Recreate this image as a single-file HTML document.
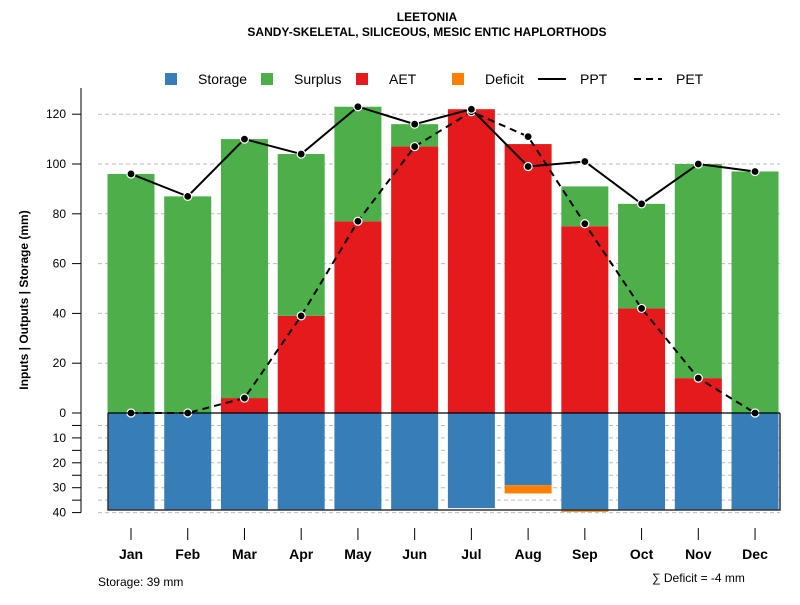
<!DOCTYPE html>
<html><head><meta charset="utf-8"><style>
body{margin:0;background:#fff;font-family:"Liberation Sans",sans-serif}
svg text{font-family:"Liberation Sans",sans-serif}
</style></head><body>
<svg id="c" width="800" height="600" xmlns="http://www.w3.org/2000/svg">
<text x="427" y="21" text-anchor="middle" font-size="12" font-weight="bold">LEETONIA</text>
<text x="427" y="36" text-anchor="middle" font-size="12" font-weight="bold">SANDY-SKELETAL, SILICEOUS, MESIC ENTIC HAPLORTHODS</text>
<g font-size="14">
<g><rect x="165" y="73" width="12" height="12" fill="#377eb8"/><text x="198" y="84">Storage</text></g>
<g><rect x="261" y="73" width="12" height="12" fill="#4daf4a"/><text x="294" y="84">Surplus</text></g>
<g><rect x="356" y="73" width="12" height="12" fill="#e41a1c"/><text x="389" y="84">AET</text></g>
<g><rect x="452" y="73" width="12" height="12" fill="#ff7f00"/><text x="485" y="84">Deficit</text></g>
<g><line x1="538" y1="79" x2="566" y2="79" stroke="#000" stroke-width="2"/><text x="580" y="84">PPT</text></g>
<g><line x1="634" y1="79" x2="662" y2="79" stroke="#000" stroke-width="2" stroke-dasharray="7,5"/><text x="676" y="84">PET</text></g>
</g>
<g id="grid"></g><g id="bars"></g><g id="lines"></g><g id="axes"></g>
<text transform="translate(28,300) rotate(-90)" text-anchor="middle" font-size="12" font-weight="bold">Inputs | Outputs | Storage    (mm)</text>
<text x="98" y="586" font-size="12">Storage: 39 mm</text>
<text x="652" y="582" font-size="12">∑ Deficit = -4 mm</text>
</svg>
<script>
const months=["Jan","Feb","Mar","Apr","May","Jun","Jul","Aug","Sep","Oct","Nov","Dec"];
const aet=[0,0,6,39,77,107,122,108,75,42,14,0];
const surplus=[96,87,104,65,46,9,0,0,16,42,86,97];
const storage=[39,39,39,39,39,39,38.2,29,39,39,39,39];
const deficit=[0,0,0,0,0,0,0,3.3,0.7,0,0,0];
const ppt=[96,87,110,104,123,116,122,99,101,84,100,97];
const pet=[0,0,6,39,77,107,121,111,76,42,14,0];
const upTicks=[0,20,40,60,80,100,120];
const lowTicks=[0,10,20,30,40];
const NS="http://www.w3.org/2000/svg";
const y0=413,k=2.49;
const yUp=v=>y0-v*k, yLow=v=>y0+v*k;
const xC=i=>131+i*56.73, bw=47;
function mk(p,t,a){const e=document.createElementNS(NS,t);for(const q in a)e.setAttribute(q,a[q]);document.getElementById(p).appendChild(e);return e;}
// grid
upTicks.slice(1).forEach(v=>{const e=mk('grid','line',{x1:98,x2:780,y1:yUp(v),y2:yUp(v),stroke:'#bbb','stroke-dasharray':'4,3'});

});
for(let v=5;v<=40;v+=5){const e=mk('grid','line',{x1:98,x2:780,y1:yLow(v),y2:yLow(v),stroke:'#bbb','stroke-dasharray':'4,3'});

}
months.forEach((m,i)=>{const x=xC(i)-bw/2;
let r=mk('bars','rect',{x:x,y:yUp(aet[i]),width:bw,height:aet[i]*k,fill:'#e41a1c'});


r=mk('bars','rect',{x:x,y:yUp(aet[i]+surplus[i]),width:bw,height:surplus[i]*k,fill:'#4daf4a'});


r=mk('bars','rect',{x:x,y:y0,width:bw,height:storage[i]*k,fill:'#377eb8'});


if(deficit[i]>0){r=mk('bars','rect',{x:x,y:yLow(storage[i]),width:bw,height:deficit[i]*k,fill:'#ff7f00'});

}
let t=mk('axes','line',{x1:xC(i),x2:xC(i),y1:528,y2:540,stroke:'#000'});


t=mk('axes','text',{x:xC(i),y:559,'text-anchor':'middle','font-size':14,'font-weight':'bold'});t.textContent=m;


});
// frame around storage
let f=mk('axes','path',{d:`M108,${y0} V510 H780 V${y0}`,fill:'none',stroke:'#333','stroke-width':1.5});


f=mk('axes','line',{x1:108,x2:780,y1:y0,y2:y0,stroke:'#000','stroke-width':1.2});


f=mk('axes','line',{x1:81,x2:81,y1:88,y2:yLow(40),stroke:'#555','stroke-width':1.5});


upTicks.forEach(v=>{let t=mk('axes','line',{x1:72,x2:81,y1:yUp(v),y2:yUp(v),stroke:'#000'});


t=mk('axes','text',{x:66,y:yUp(v)+4,'text-anchor':'end','font-size':12});t.textContent=v;

});
for(let v=5;v<=40;v+=5){let t=mk('axes','line',{x1:72,x2:81,y1:yLow(v),y2:yLow(v),stroke:'#000'});

}
lowTicks.slice(1).forEach(v=>{let t=mk('axes','text',{x:66,y:yLow(v)+4,'text-anchor':'end','font-size':12});t.textContent=v;

});
function series(arr,name,dash){
let l=mk('lines','polyline',{points:arr.map((v,i)=>xC(i)+','+yUp(v)).join(' '),fill:'none',stroke:'#000','stroke-width':2,'stroke-dasharray':dash});


arr.forEach((v,i)=>{let c=mk('lines','circle',{cx:xC(i),cy:yUp(v),r:4,fill:'#000',stroke:'#fff','stroke-width':1.2});

});}
series(pet,'pet','7,5');
series(ppt,'ppt','none');
</script>
</body></html>
